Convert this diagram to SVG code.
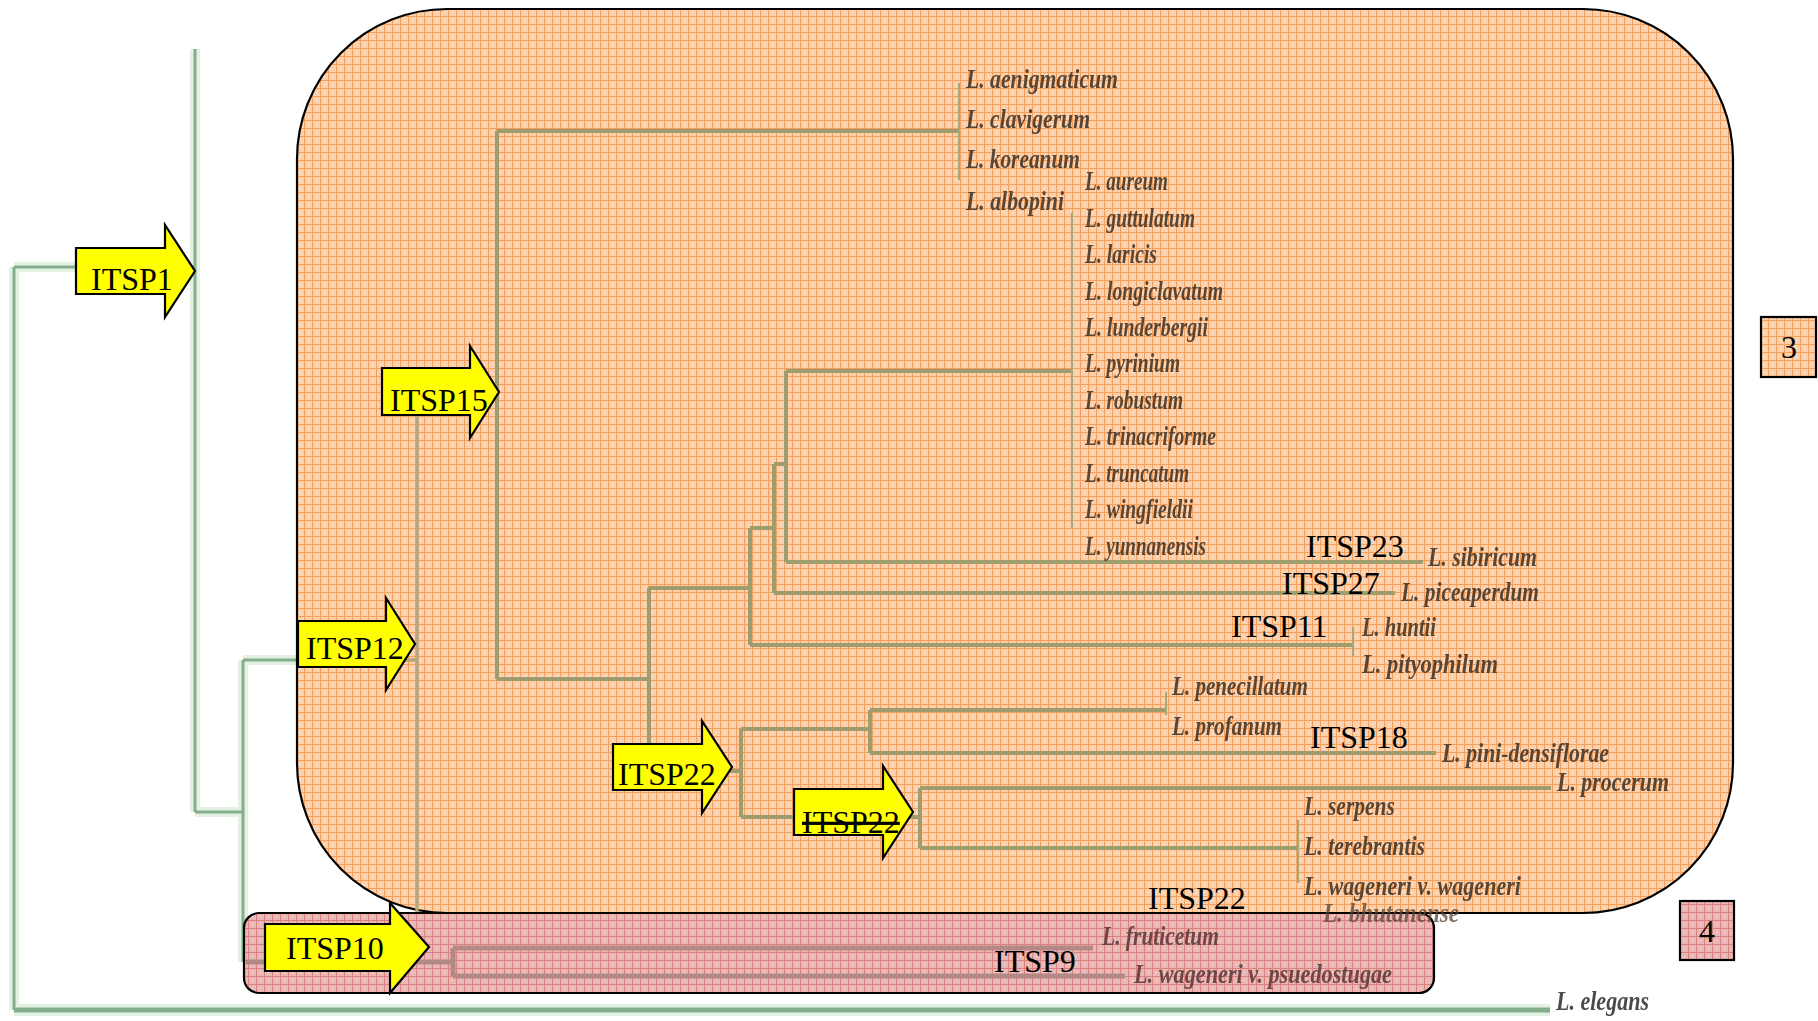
<svg xmlns="http://www.w3.org/2000/svg" width="1818" height="1021" viewBox="0 0 1818 1021">
<defs>
<pattern id="og" width="8" height="8" patternUnits="userSpaceOnUse">
<rect width="8" height="8" fill="#FCD0AA"/>
<path d="M0 0.5H8M0.5 0V8" stroke="#F39F5E" stroke-width="1"/>
<rect x="4" y="4" width="1" height="1" fill="#FFFFFF" opacity="0.8"/>
</pattern>
<pattern id="pk" width="8" height="8" patternUnits="userSpaceOnUse">
<rect width="8" height="8" fill="#EAB7B6"/>
<path d="M0 0.5H8M0.5 0V8" stroke="#D9827F" stroke-width="1"/>
<rect x="4" y="4" width="1" height="1" fill="#FFFFFF" opacity="0.7"/>
</pattern>
<filter id="soft" x="-5%" y="-30%" width="110%" height="160%">
<feGaussianBlur stdDeviation="0.6"/>
</filter>
</defs>
<style>
.olh{fill:none;stroke:#E2F1E2;stroke-width:10}
.ol{fill:none;stroke:#84AD8C;stroke-width:3}
.il{fill:none;stroke:#9F9C6D;stroke-width:4}
.ilf{fill:none;stroke:#B7A57C;stroke-width:3.5}
.it{fill:none;stroke:#A7A878;stroke-width:2}
.pl{fill:none;stroke:#B38985;stroke-width:5}
.arrow{fill:#FFFF00;stroke:#000000;stroke-width:2.2;stroke-linejoin:miter}
.lab{font-family:"Liberation Serif","Times New Roman",serif;font-size:32px;fill:#000000}
.sp{font-family:"Liberation Serif","Times New Roman",serif;font-style:italic;font-weight:bold;font-size:27px;fill:#5A4432;filter:url(#soft)}
.spp{fill:#6E4744}
.spe{fill:#4C4C4C}
.box{stroke:#000000;stroke-width:2.2}
</style>
<rect width="1818" height="1021" fill="#FFFFFF"/>

<g id="outer-connectors">
<path class="olh" d="M14 267V1010M14 267H195M195 49V812M195 812H243M243 660V962M243 660H300"/>
<path class="olh" d="M14 1010H1550" style="stroke-width:12"/>
<path class="ol" d="M14 267V1010M14 267H195M195 49V812M195 812H243M243 660V962M243 660H300"/>
<path class="ol" d="M14 1010H1550" style="stroke-width:5"/>
</g>

<g id="box3-group">
<rect x="297" y="9" width="1436" height="904" rx="150" ry="150" fill="url(#og)" class="box"/>
</g>
<g id="box4-group">
<rect x="244" y="913" width="1190" height="80" rx="15" ry="15" fill="url(#pk)" class="box"/>
</g>

<g id="connectors">
<path class="ilf" d="M417 392V912M300 660H417"/>
<path class="il" d="M417 392H497M497 131V679M497 131H959M497 679H649M649 588V771M649 588H750M750 528V645M750 528H774M750 645H1353M774 464V593M774 464H786M774 593H1395M786 371V562M786 371H1072M786 562H1423M649 771H741M741 729V817M741 729H870M741 817H920M870 710V753M870 710H1166M870 753H1436M920 788V848M920 788H1551M920 848H1298"/>
<path class="it" d="M959 83V180M1072 213V528M1166 692V715M1298 820V883M1353 627V656"/>
<path class="pl" d="M246 962H453M453 948V976M453 948H1093M453 976H1125"/>
</g>

<g id="species">
<g id="sp-aenigmaticum"><text class="sp" x="966" y="88" textLength="152" lengthAdjust="spacingAndGlyphs">L. aenigmaticum</text></g>
<g id="sp-clavigerum"><text class="sp" x="966" y="128" textLength="124" lengthAdjust="spacingAndGlyphs">L. clavigerum</text></g>
<g id="sp-koreanum"><text class="sp" x="966" y="168" textLength="114" lengthAdjust="spacingAndGlyphs">L. koreanum</text></g>
<g id="sp-albopini"><text class="sp" x="966" y="210" textLength="98" lengthAdjust="spacingAndGlyphs">L. albopini</text></g>
<g id="sp-aureum"><text class="sp" x="1085" y="190" textLength="83" lengthAdjust="spacingAndGlyphs">L. aureum</text></g>
<g id="sp-guttulatum"><text class="sp" x="1085" y="227" textLength="110" lengthAdjust="spacingAndGlyphs">L. guttulatum</text></g>
<g id="sp-laricis"><text class="sp" x="1085" y="263" textLength="72" lengthAdjust="spacingAndGlyphs">L. laricis</text></g>
<g id="sp-longiclavatum"><text class="sp" x="1085" y="300" textLength="138" lengthAdjust="spacingAndGlyphs">L. longiclavatum</text></g>
<g id="sp-lunderbergii"><text class="sp" x="1085" y="336" textLength="123" lengthAdjust="spacingAndGlyphs">L. lunderbergii</text></g>
<g id="sp-pyrinium"><text class="sp" x="1085" y="372" textLength="95" lengthAdjust="spacingAndGlyphs">L. pyrinium</text></g>
<g id="sp-robustum"><text class="sp" x="1085" y="409" textLength="98" lengthAdjust="spacingAndGlyphs">L. robustum</text></g>
<g id="sp-trinacriforme"><text class="sp" x="1085" y="445" textLength="131" lengthAdjust="spacingAndGlyphs">L. trinacriforme</text></g>
<g id="sp-truncatum"><text class="sp" x="1085" y="482" textLength="104" lengthAdjust="spacingAndGlyphs">L. truncatum</text></g>
<g id="sp-wingfieldii"><text class="sp" x="1085" y="518" textLength="108" lengthAdjust="spacingAndGlyphs">L. wingfieldii</text></g>
<g id="sp-yunnanensis"><text class="sp" x="1085" y="555" textLength="121" lengthAdjust="spacingAndGlyphs">L. yunnanensis</text></g>
<g id="sp-sibiricum"><text class="sp" x="1428" y="566" textLength="109" lengthAdjust="spacingAndGlyphs">L. sibiricum</text></g>
<g id="sp-piceaperdum"><text class="sp" x="1401" y="601" textLength="138" lengthAdjust="spacingAndGlyphs">L. piceaperdum</text></g>
<g id="sp-huntii"><text class="sp" x="1362" y="636" textLength="74" lengthAdjust="spacingAndGlyphs">L. huntii</text></g>
<g id="sp-pityophilum"><text class="sp" x="1362" y="673" textLength="136" lengthAdjust="spacingAndGlyphs">L. pityophilum</text></g>
<g id="sp-penecillatum"><text class="sp" x="1172" y="695" textLength="136" lengthAdjust="spacingAndGlyphs">L. penecillatum</text></g>
<g id="sp-profanum"><text class="sp" x="1172" y="735" textLength="110" lengthAdjust="spacingAndGlyphs">L. profanum</text></g>
<g id="sp-pini-densiflorae"><text class="sp" x="1442" y="762" textLength="167" lengthAdjust="spacingAndGlyphs">L. pini-densiflorae</text></g>
<g id="sp-procerum"><text class="sp" x="1557" y="791" textLength="112" lengthAdjust="spacingAndGlyphs">L. procerum</text></g>
<g id="sp-serpens"><text class="sp" x="1304" y="815" textLength="91" lengthAdjust="spacingAndGlyphs">L. serpens</text></g>
<g id="sp-terebrantis"><text class="sp" x="1304" y="855" textLength="121" lengthAdjust="spacingAndGlyphs">L. terebrantis</text></g>
<g id="sp-wageneri-wageneri"><text class="sp" x="1304" y="895" textLength="217" lengthAdjust="spacingAndGlyphs">L. wageneri v. wageneri</text></g>
<g id="sp-bhutanense"><text class="sp" x="1323" y="922" textLength="136" lengthAdjust="spacingAndGlyphs" opacity="0.75">L. bhutanense</text></g>
<g id="sp-fruticetum"><text class="sp spp" x="1102" y="945" textLength="117" lengthAdjust="spacingAndGlyphs">L. fruticetum</text></g>
<g id="sp-wageneri-psuedostugae"><text class="sp spp" x="1134" y="983" textLength="258" lengthAdjust="spacingAndGlyphs">L. wageneri v. psuedostugae</text></g>
<g id="sp-elegans"><text class="sp spe" x="1556" y="1010" textLength="93" lengthAdjust="spacingAndGlyphs">L. elegans</text></g>
</g>

<g id="arrow-ITSP1">
<polygon class="arrow" points="76,248 165,248 165,225 195,271 165,317 165,294 76,294"/>
<text class="lab" x="91" y="290">ITSP1</text>
</g>
<g id="arrow-ITSP15">
<polygon class="arrow" points="382,368 470,368 470,346 499,392 470,438 470,415 382,415"/>
<text class="lab" x="390" y="411">ITSP15</text>
</g>
<g id="arrow-ITSP12">
<polygon class="arrow" points="298,621 386,621 386,598 415,644 386,690 386,667 298,667"/>
<text class="lab" x="306" y="659">ITSP12</text>
</g>
<g id="arrow-ITSP22a">
<polygon class="arrow" points="613,744 702,744 702,721 732,767 702,813 702,790 613,790"/>
<text class="lab" x="618" y="785">ITSP22</text>
</g>
<g id="arrow-ITSP22b">
<polygon class="arrow" points="794,789 883,789 883,766 913,812 883,858 883,835 794,835"/>
<text class="lab" x="802" y="833" text-decoration="line-through">ITSP22</text>
</g>
<g id="arrow-ITSP10">
<polygon class="arrow" points="265,924 390,924 390,903 429,947 390,993 390,971 265,971"/>
<text class="lab" x="286" y="959">ITSP10</text>
</g>

<g id="label-ITSP23"><text class="lab" x="1306" y="557">ITSP23</text></g>
<g id="label-ITSP27"><text class="lab" x="1282" y="594">ITSP27</text></g>
<g id="label-ITSP11"><text class="lab" x="1231" y="637">ITSP11</text></g>
<g id="label-ITSP18"><text class="lab" x="1310" y="748">ITSP18</text></g>
<g id="label-ITSP22c"><text class="lab" x="1148" y="909">ITSP22</text></g>
<g id="label-ITSP9"><text class="lab" x="994" y="972">ITSP9</text></g>

<g id="tag-3">
<rect x="1761" y="317" width="55" height="60" fill="url(#og)" class="box"/>
<text class="lab" x="1789" y="358" text-anchor="middle">3</text>
</g>
<g id="tag-4">
<rect x="1680" y="901" width="54" height="59" fill="url(#pk)" class="box"/>
<text class="lab" x="1707" y="942" text-anchor="middle">4</text>
</g>
</svg>
